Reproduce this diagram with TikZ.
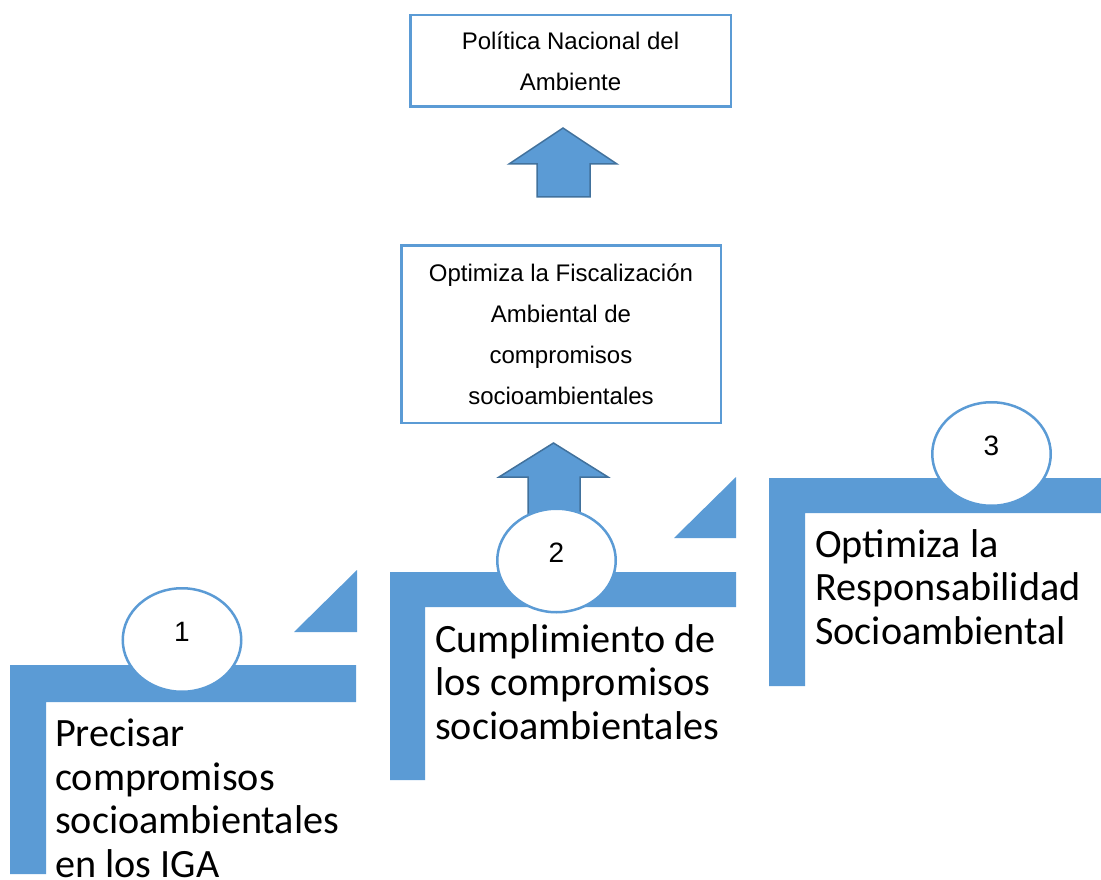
\documentclass[tikz,border=0pt]{standalone}
\usepackage{fontspec}
\setmainfont{Carlito}
\newfontfamily\arialf{Liberation Sans}
\usetikzlibrary{shapes.geometric}
\definecolor{stepblue}{HTML}{5B9BD5}
\definecolor{arrowedge}{HTML}{41719C}
\begin{document}
\begin{tikzpicture}[x=1pt,y=-1pt,
  stepbar/.style={fill=stepblue,draw=none},
  blockarrow/.style={fill=stepblue,draw=arrowedge,line width=1.5pt,line join=miter},
  infobox/.style={draw=stepblue,line width=2.5pt,fill=white,inner sep=0pt,align=center,font=\arialf\fontsize{24}{41}\selectfont},
  numcirc/.style={ellipse,draw=stepblue,line width=2.5pt,fill=white,minimum width=118.5pt,minimum height=103.5pt,inner sep=0pt},
  numtext/.style={font=\arialf\fontsize{28}{34}\selectfont,inner sep=0pt},
  steptext/.style={font=\fontsize{40.2}{43.5}\selectfont,align=left,inner sep=0pt,anchor=base west}
]
\useasboundingbox (0,0) rectangle (1101,880);
% top boxes
\node[infobox,minimum width=320.5pt,minimum height=91.5pt] (pna) at (570.5,61) {Política Nacional del\\Ambiente};
\node[infobox,minimum width=319.5pt,minimum height=177.5pt] (fisc) at (561,334) {Optimiza la Fiscalización\\Ambiental de\\compromisos\\socioambientales};
% block arrows
\draw[blockarrow] (563,128) -- (617,164) -- (590,164) -- (590,197) -- (537,197) -- (537,164) -- (509,164) -- cycle;
\draw[blockarrow] (553.5,443) -- (608,477) -- (580,477) -- (580,530) -- (528,530) -- (528,477) -- (499,477) -- cycle;
% steps
\fill[stepblue] (10,665) -- (356,665) -- (356,702) -- (46,702) -- (46,874) -- (10,874) -- cycle;
\fill[stepblue] (390,572) -- (736,572) -- (736,607) -- (425,607) -- (425,780) -- (390,780) -- cycle;
\fill[stepblue] (769,478) -- (1101,478) -- (1101,513) -- (805,513) -- (805,686) -- (769,686) -- cycle;
% triangles
\fill[stepblue] (294,632) -- (357,632) -- (357,570) -- cycle;
\fill[stepblue] (674,538) -- (736,538) -- (736,477) -- cycle;
% circles
\node[numcirc,label={[numtext,yshift=8pt]center:1}] (c1) at (182,640) {};
\node[numcirc,label={[numtext,yshift=8pt]center:2}] (c2) at (556.5,560.5) {};
\node[numcirc,label={[numtext,yshift=8pt]center:3}] (c3) at (991.5,454) {};
% step texts (anchored at the baseline of the last line)
\node[steptext] (t1) at (55,877) {Precisar\\compromisos\\socioambientales\\en los IGA};
\node[steptext] (t2) at (435,739) {Cumplimiento de\\los compromisos\\socioambientales};
\node[steptext] (t3) at (815,644) {Optimiza la\\Responsabilidad\\Socioambiental};
\end{tikzpicture}
\end{document}
